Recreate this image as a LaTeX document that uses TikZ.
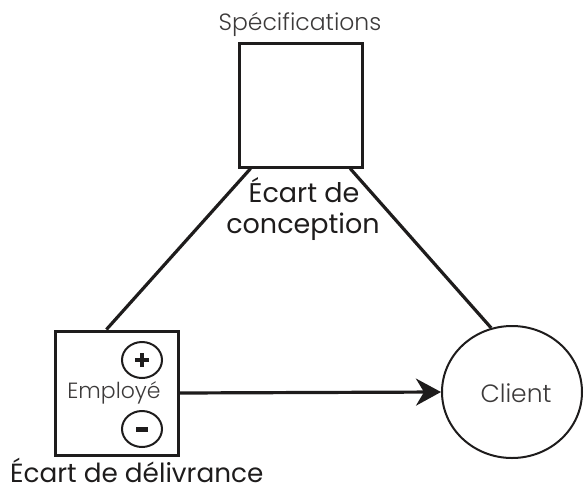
\documentclass[tikz,border=0pt]{standalone}
\usepackage{fontspec}
\setmainfont{Poppins}
\newfontfamily\lightfont{Poppins Light}
\usetikzlibrary{shapes.geometric,arrows.meta,calc}
\definecolor{ink}{RGB}{30,28,28}
\definecolor{lightink}{RGB}{60,58,58}
\tikzset{
  box/.style={draw=ink,line width=3pt,minimum width=123pt,minimum height=124pt,inner sep=0pt},
  signc/.style={draw=ink,line width=2pt,ellipse,minimum width=40pt,minimum height=36pt,inner sep=0pt},
  conn/.style={draw=ink,line width=3.2pt},
  lbl/.style={text=lightink,anchor=base,inner sep=0pt},
  gap/.style={text=ink,inner sep=0pt}
}
\begin{document}
\begin{tikzpicture}[x=1pt,y=-1pt]
\useasboundingbox (0,0) rectangle (584,499);
\node[box] (spec) at (301,105) {};
\node[box] (emp) at (116.5,393) {};
\node[draw=ink,line width=2pt,ellipse,minimum width=140pt,minimum height=132pt,inner sep=0pt] (client) at (512,392) {};
\node[signc] (plus) at (142,360) {};
\node[signc] (minus) at (142,429) {};
\draw[ink,line width=4pt] ([xshift=-7pt]plus.center) -- ([xshift=7pt]plus.center);
\draw[ink,line width=4pt] ([yshift=-7pt]plus.center) -- ([yshift=7pt]plus.center);
\draw[ink,line width=5pt] ([xshift=-6pt]minus.center) -- ([xshift=6pt]minus.center);
\node[lbl,font=\lightfont\fontsize{23.5}{28}\selectfont] (specl) at (300,30) {Spécifications};
\node[lbl,font=\lightfont\fontsize{22}{26}\selectfont] (empl) at (114,398) {Employé};
\node[lbl,font=\lightfont\fontsize{25}{30}\selectfont] (clientl) at (516,402) {Client};
\node[gap,anchor=base,font=\fontsize{27}{32}\selectfont] (gc1) at (304,202) {Écart de};
\node[gap,anchor=base,font=\fontsize{27}{32}\selectfont] (gc2) at (303,233) {conception};
\node[gap,anchor=base west,font=\fontsize{26.3}{31}\selectfont] (gd) at (10,482) {Écart de délivrance};
\draw[conn] ($(spec.south west)!0.1!(spec.south east)$) -- ($(emp.north west)!0.42!(emp.north east)$);
\draw[conn] ($(spec.south west)!0.89!(spec.south east)$) -- (client.108);
\draw[conn,-{Stealth[length=25pt,width=27pt,inset=8pt]}] (emp.east) -- (client.west);
\end{tikzpicture}
\end{document}
